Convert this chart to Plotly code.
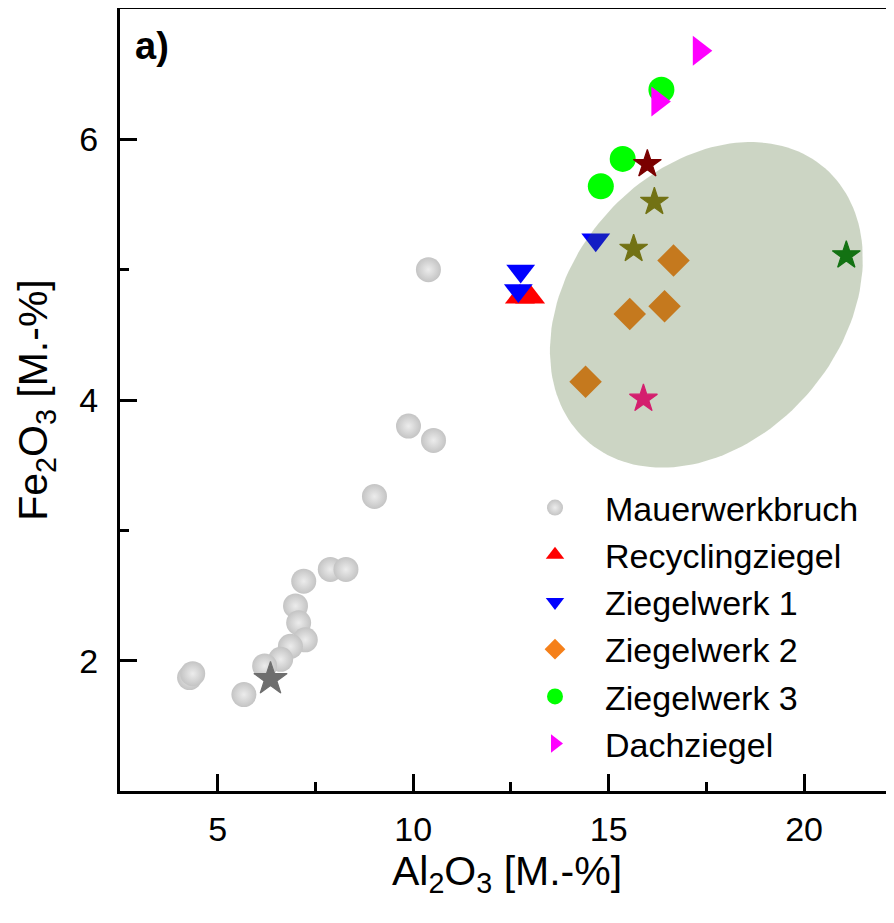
import numpy as np
import plotly.graph_objects as go

# ---------------- data ----------------
maue_x = [10.39, 9.88, 10.52, 9.01, 7.88, 8.28, 7.20, 6.99, 7.07, 7.24, 6.86, 6.61, 6.20, 4.28, 4.36, 5.67]
maue_y = [5.00, 3.80, 3.69, 3.26, 2.70, 2.70, 2.61, 2.42, 2.29, 2.16, 2.11, 2.01, 1.96, 1.87, 1.90, 1.74]

recy_x = [12.73, 12.99]
recy_y = [4.79, 4.79]

zw1_x = [12.75, 12.69, 14.67]
zw1_y = [4.99, 4.84, 5.23]

zw2_x = [16.66, 15.54, 16.43, 14.41]
zw2_y = [5.07, 4.66, 4.72, 4.14]

zw3_x = [16.35, 15.36, 14.80]
zw3_y = [6.38, 5.85, 5.64]

dach_x = [17.32, 16.26]
dach_y = [6.68, 6.29]

# single highlighted samples (stars)
star_x = [6.35, 15.99, 16.17, 15.64, 21.08, 15.89]
star_y = [1.86, 5.81, 5.52, 5.16, 5.11, 4.01]
star_c = ["#6e6e6e", "#7a0000", "#727214", "#727214", "#137213", "#d41f6e"]
star_s = [25, 21, 21, 21, 21, 21]

x_ticks = [5, 10, 15, 20]
y_ticks = [2, 4, 6]

X_RANGE = [2.5, 22.3]
Y_RANGE = [1.0, 7.0]

# ---------------- layout geometry ----------------
# the page body has an 8px margin, so the figure is shrunk/shifted accordingly
W, H = 886, 915
ML, MR, MT, MB = 112, 0, 1, 132
plot_w = W - ML - MR
plot_h = H - MT - MB
sx = plot_w / (X_RANGE[1] - X_RANGE[0])  # px per unit x
sy = plot_h / (Y_RANGE[1] - Y_RANGE[0])  # px per unit y

# highlighted region (ellipse), defined in screen-space size, converted to data
ell_cx, ell_cy = 17.5, 4.73
ell_a, ell_b, ell_ang = 181.0, 135.0, np.deg2rad(49)
t = np.linspace(0, 2 * np.pi, 160)
ex_px = ell_a * np.cos(t) * np.cos(ell_ang) - ell_b * np.sin(t) * np.sin(ell_ang)
ey_px = ell_a * np.cos(t) * np.sin(ell_ang) + ell_b * np.sin(t) * np.cos(ell_ang)
ex = ell_cx + ex_px / sx
ey = ell_cy + ey_px / sy

fig = go.Figure()

fig.add_trace(go.Scatter(
    x=maue_x, y=maue_y, mode="markers", name="Mauerwerkbruch",
    marker=dict(symbol="circle", size=25, color="#c4c4c4",
                gradient=dict(type="radial", color="#ececec"),
                line=dict(width=0)),
))
fig.add_trace(go.Scatter(
    x=recy_x, y=recy_y, mode="markers", name="Recyclingziegel",
    marker=dict(symbol="triangle-up", size=26, color="#ff0000", line=dict(width=0)),
))
fig.add_trace(go.Scatter(
    x=zw1_x, y=zw1_y, mode="markers", name="Ziegelwerk 1",
    marker=dict(symbol="triangle-down", size=25, color="#0000ff", line=dict(width=0)),
))
fig.add_trace(go.Scatter(
    x=zw2_x, y=zw2_y, mode="markers", name="Ziegelwerk 2",
    marker=dict(symbol="diamond", size=25, color="#f5801a", line=dict(width=0)),
))
fig.add_trace(go.Scatter(
    x=zw3_x, y=zw3_y, mode="markers", name="Ziegelwerk 3",
    marker=dict(symbol="circle", size=26, color="#00ff00", line=dict(width=0)),
))
fig.add_trace(go.Scatter(
    x=dach_x, y=dach_y, mode="markers", name="Dachziegel",
    marker=dict(symbol="triangle-right", size=26, color="#ff00ff", line=dict(width=0)),
))
# translucent highlighted region
fig.add_trace(go.Scatter(
    x=ex, y=ey, mode="lines", fill="toself", fillcolor="rgba(72,105,44,0.28)",
    line=dict(width=0, color="rgba(0,0,0,0)"), showlegend=False, hoverinfo="skip",
))
# stars drawn on an overlaid (identical) axis pair so they sit above the region
fig.add_trace(go.Scatter(
    x=star_x, y=star_y, mode="markers", showlegend=False, xaxis="x2", yaxis="y2",
    marker=dict(symbol="star", size=star_s, color=star_c, opacity=1,
                line=dict(width=1.2, color=star_c)),
))

fig.add_annotation(text="<b>a)</b>", xref="paper", yref="paper",
                   x=(152 - 8 - ML) / plot_w, y=(plot_h + MT - (46 - 8)) / plot_h,
                   xanchor="center", yanchor="middle", showarrow=False,
                   font=dict(size=38, color="black", family="Liberation Sans, Arial"))

axis_common = dict(
    showgrid=False, zeroline=False, showline=True, linecolor="black", linewidth=3,
    ticks="inside", ticklen=17, tickwidth=3, tickcolor="black",
    tickfont=dict(size=34, color="black", family="Liberation Sans, Arial"),
)

fig.update_layout(
    width=W, height=H,
    margin=dict(l=ML, r=MR, t=MT, b=MB, autoexpand=False),
    paper_bgcolor="white", plot_bgcolor="white",
    font=dict(family="Liberation Sans, Arial", color="black"),
    xaxis=dict(range=X_RANGE, tickvals=x_ticks, mirror=True, ticklabelstandoff=6,
               minor=dict(tickvals=[2.5, 7.5, 12.5, 17.5], ticklen=9, tickwidth=3,
                          ticks="inside", tickcolor="black"),
               title=dict(text="Al<sub>2</sub>O<sub>3</sub> [M.-%]",
                          font=dict(size=41, color="black"), standoff=8),
               **axis_common),
    yaxis=dict(range=Y_RANGE, tickvals=y_ticks, mirror=False, ticklabelstandoff=12,
               minor=dict(tickvals=[3, 5], ticklen=9, tickwidth=3,
                          ticks="inside", tickcolor="black"),
               title=dict(text="Fe<sub>2</sub>O<sub>3</sub> [M.-%]",
                          font=dict(size=41, color="black"), standoff=19),
               **axis_common),
    xaxis2=dict(overlaying="x", matches="x", range=X_RANGE, visible=False),
    yaxis2=dict(overlaying="y", matches="y", range=Y_RANGE, visible=False),
    legend=dict(x=(505 - 8 - ML) / plot_w, y=(plot_h + MT - (479 - 8)) / plot_h,
                xanchor="left", yanchor="top",
                bgcolor="rgba(0,0,0,0)", borderwidth=0,
                font=dict(size=34, color="black"), itemwidth=90,
                tracegroupgap=0, itemsizing="trace"),
    showlegend=True,
)

fig.write_html("out.html")
